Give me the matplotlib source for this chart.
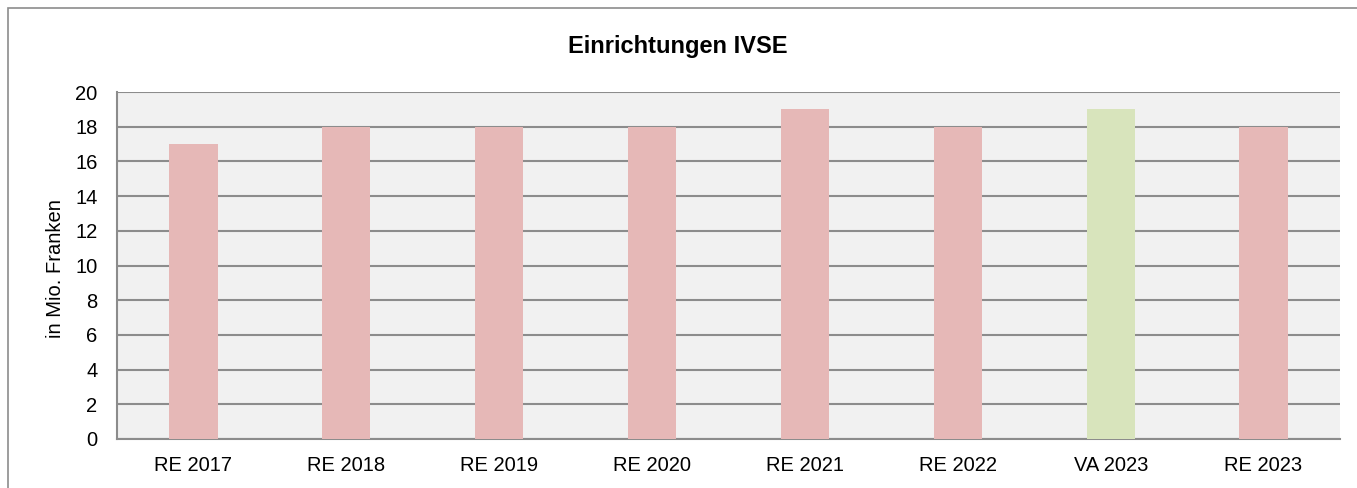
import matplotlib
matplotlib.use("Agg")
import matplotlib.pyplot as plt
from matplotlib.patches import Rectangle

categories = ["RE 2017", "RE 2018", "RE 2019", "RE 2020", "RE 2021", "RE 2022", "VA 2023", "RE 2023"]
values = [17, 18, 18, 18, 19, 18, 19, 18]
colors = ["#E6B8B7", "#E6B8B7", "#E6B8B7", "#E6B8B7", "#E6B8B7", "#E6B8B7", "#D8E4BC", "#E6B8B7"]
yticks = [0, 2, 4, 6, 8, 10, 12, 14, 16, 18, 20]

plt.rcParams['font.family'] = ['Liberation Sans', 'DejaVu Sans']

W, H = 1357, 488
fig = plt.figure(figsize=(W / 100, H / 100), dpi=100)
fig.patches.append(Rectangle((8 / W, -0.02), 1.0, 1 - 8 / H + 0.02, transform=fig.transFigure,
                             fill=False, edgecolor="#8C8C8C", linewidth=1.2))

ax = fig.add_axes([117 / W, 1 - 439 / H, (1340 - 117) / W, (439 - 92) / H])
ax.set_facecolor("#F1F1F1")
x = list(range(len(categories)))
ax.bar(x, values, width=0.315, color=colors, zorder=3)
ax.set_xlim(-0.5, len(categories) - 0.5)
ax.set_ylim(0, 20)
ax.set_yticks(yticks)
ax.set_xticks(x)
ax.set_xticklabels(categories)
ax.tick_params(axis='both', length=0, labelsize=14.5, colors="black")
ax.tick_params(axis='y', pad=14)
ax.tick_params(axis='x', pad=12)
ax.yaxis.grid(True, color="#8C8C8C", linewidth=1.5, zorder=1)
ax.set_axisbelow(True)
for s in ["top", "right"]:
    ax.spines[s].set_visible(False)
for s in ["left", "bottom"]:
    ax.spines[s].set_color("#8C8C8C")
    ax.spines[s].set_linewidth(1.5)
ax.set_ylabel("in Mio. Franken", fontsize=14.5)
ax.yaxis.set_label_coords(-52 / (1340 - 117), 0.5 - 3 / 347)
fig.text(678 / W, 1 - 47 / H, "Einrichtungen IVSE", ha="center", va="center",
         fontsize=17, fontweight="bold")

fig.savefig("out.png", dpi=100)
